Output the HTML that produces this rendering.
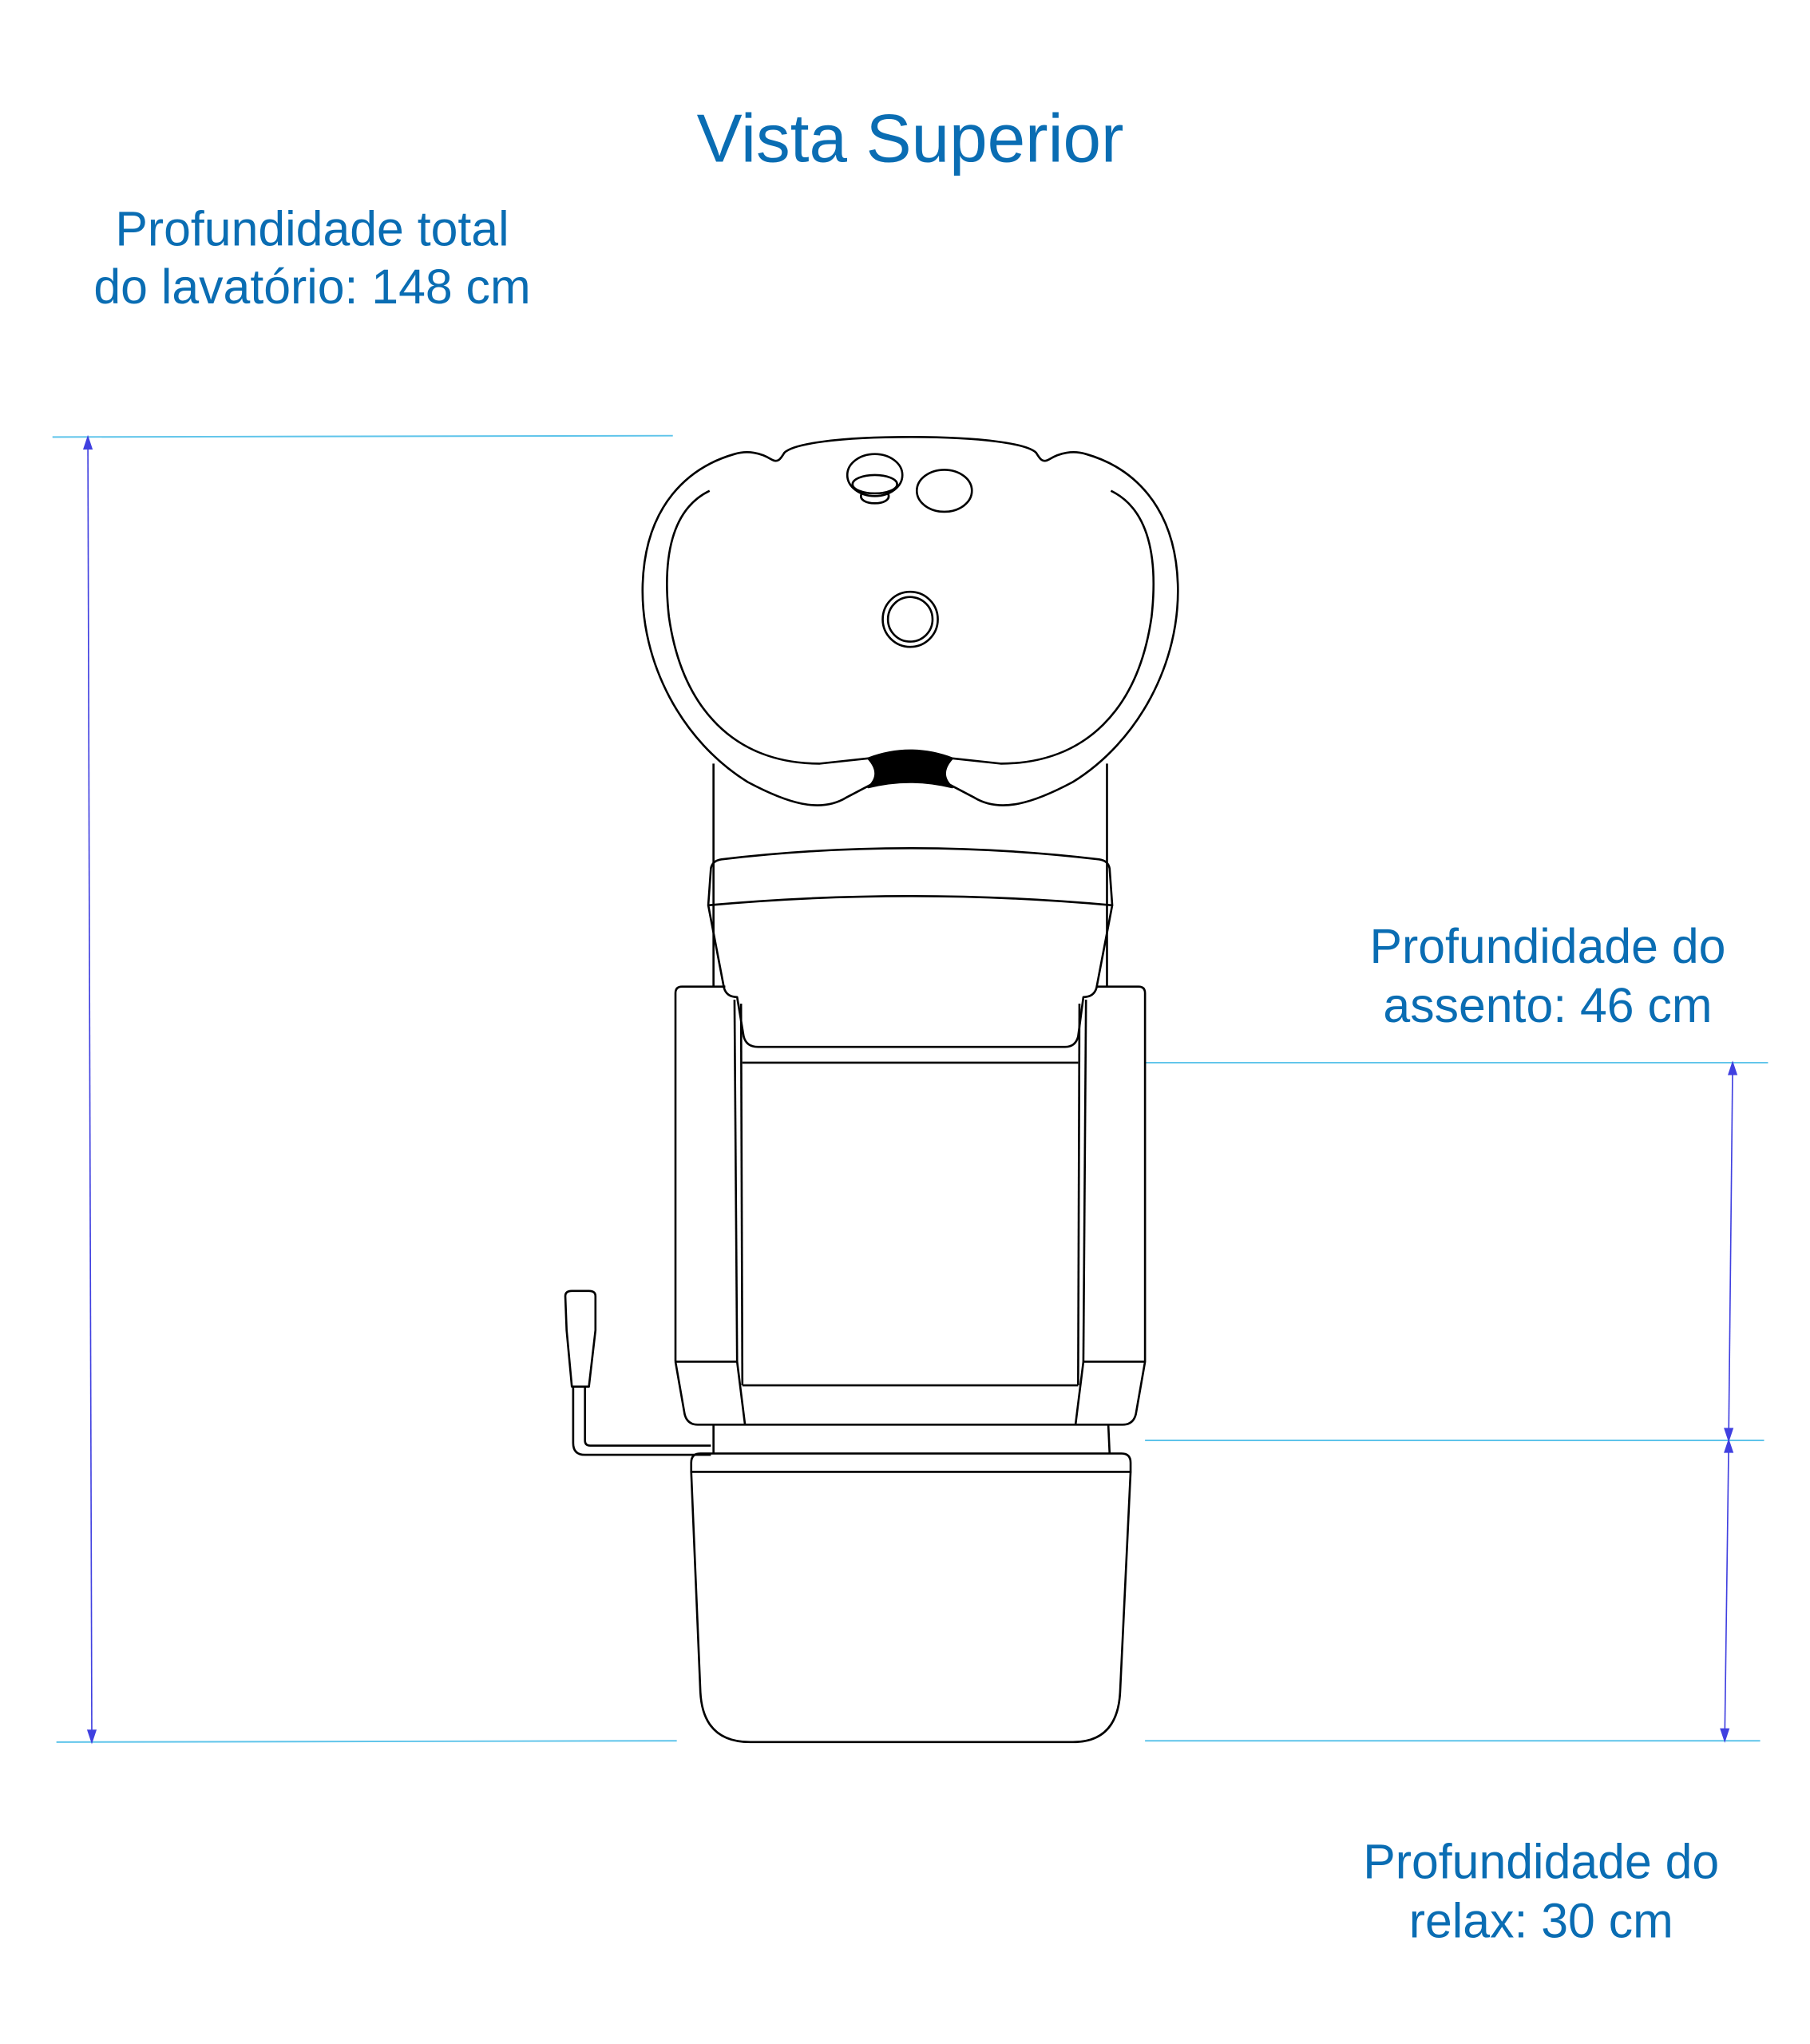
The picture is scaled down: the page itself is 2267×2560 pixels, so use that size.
<!DOCTYPE html>
<html><head><meta charset="utf-8"><style>
html,body{margin:0;padding:0;background:#fff;}
svg{display:block;}
text{font-family:"Liberation Sans",sans-serif;fill:#0a6db3;text-anchor:middle;}
</style></head><body>
<svg width="2267" height="2560" viewBox="0 0 1380 1558" xmlns="http://www.w3.org/2000/svg">
<text x="694" y="123" font-size="52">Vista Superior</text>
<text x="238" y="187" font-size="37">Profundidade total</text>
<text x="238" y="231" font-size="37">do lavatório: 148 cm</text>
<text x="1180" y="734" font-size="37">Profundidade do</text>
<text x="1180" y="779" font-size="37">assento: 46 cm</text>
<text x="1175" y="1432" font-size="37">Profundidade do</text>
<text x="1175" y="1477" font-size="37">relax: 30 cm</text>

<g stroke="#5ec4ea" stroke-width="1.2">
<line x1="40" y1="333" x2="513" y2="332"/>
<line x1="43" y1="1328" x2="516" y2="1327"/>
<line x1="873" y1="810" x2="1348" y2="810"/>
<line x1="873" y1="1098" x2="1345" y2="1098"/>
<line x1="873" y1="1327" x2="1342" y2="1327"/>
</g>
<g stroke="#4040e0" stroke-width="1" fill="#4040e0">
<line x1="67" y1="336" x2="70" y2="1325"/>
<polygon points="67,333 64,342 70,342"/><polygon points="70,1328 67,1319 73,1319"/>
<line x1="1321" y1="813" x2="1318" y2="1095"/>
<polygon points="1321,810 1318,819 1324,819"/><polygon points="1318,1098 1315,1089 1321,1089"/>
<line x1="1318" y1="1101" x2="1315" y2="1324"/>
<polygon points="1318,1098 1315,1107 1321,1107"/><polygon points="1315,1327 1312,1318 1318,1318"/>
</g>

<g fill="none" stroke="#000" stroke-width="1.6" stroke-linejoin="round">
<path d="M694 333 C640 333 605 338 598 345 C595 350 593 353 588 350 C580 345 570 343 560 346 C525 356 492 385 490 445 C488 505 520 565 570 596 C600 612 625 620 645 608 L664 598 Q694 590 724 598 L743 608 C763 620 788 612 818 596 C868 565 900 505 898 445 C896 385 863 356 828 346 C818 343 808 345 800 350 C795 353 793 350 790 345 C783 338 748 333 694 333 Z"/>
<path d="M541 374 C512 388 505 425 510 470 C520 540 560 582 625 582 L662 578"/>
<path d="M847 374 C876 388 883 425 878 470 C868 540 828 582 763 582 L726 578"/>
<path d="M662 578 Q694 566 726 578 Q715 590 726 600 Q694 592 662 600 Q673 590 662 578 Z" fill="#000"/>
<ellipse cx="667" cy="362" rx="21" ry="16"/>
<ellipse cx="667" cy="369" rx="17" ry="7"/>
<path d="M657 376 C652 386 682 386 677 376"/>
<ellipse cx="720" cy="374" rx="21" ry="16"/>
<circle cx="694" cy="472" r="21"/>
<circle cx="694" cy="472" r="17"/>
<line x1="544" y1="582" x2="544" y2="752"/>
<line x1="844" y1="582" x2="844" y2="752"/>
<path d="M540 690 L542 662 Q543 656 550 655 Q694 638 838 655 Q845 656 846 662 L848 690 Q694 676 540 690 Z"/>
<path d="M540 690 L552 753 Q554 760 562 760 L567 790 Q569 798 578 798 L812 798 Q820 798 822 790 L826 760 Q834 760 836 753 L848 690"/>
<path d="M515 1038 L515 757 Q515 752 520 752 L553 752"/>
<path d="M515 1038 L522 1078 Q524 1086 532 1086 L856 1086 Q864 1086 866 1078 L873 1038 L873 757 Q873 752 868 752 L836 752"/>
<line x1="515" y1="1038" x2="562" y2="1038"/>
<line x1="826" y1="1038" x2="873" y2="1038"/>
<line x1="560" y1="762" x2="562" y2="1038"/><line x1="562" y1="1038" x2="568" y2="1086"/>
<line x1="828" y1="762" x2="826" y2="1038"/><line x1="826" y1="1038" x2="820" y2="1086"/>
<line x1="565" y1="765" x2="566" y2="1056"/>
<line x1="823" y1="765" x2="822" y2="1056"/>
<line x1="566" y1="810" x2="822" y2="810"/>
<line x1="566" y1="1056" x2="822" y2="1056"/>
<path d="M544 1086 L544 1108 M845 1086 L846 1108"/>
<path d="M527 1122 L527 1115 Q527 1108 534 1108 L855 1108 Q862 1108 862 1115 L862 1122 Z"/>
<path d="M527 1122 L534 1290 Q536 1328 572 1328 L818 1328 Q852 1328 854 1290 L862 1122"/>
<path d="M431 988 Q431 984 436 984 L449 984 Q454 984 454 988 L454 1014 L449 1057 L436 1057 L432 1014 Z"/>
<path d="M437 1057 L437 1100 Q437 1109 446 1109 L542 1109 M446 1057 L446 1098 Q446 1102 450 1102 L542 1102"/>
</g>
</svg>
</body></html>
